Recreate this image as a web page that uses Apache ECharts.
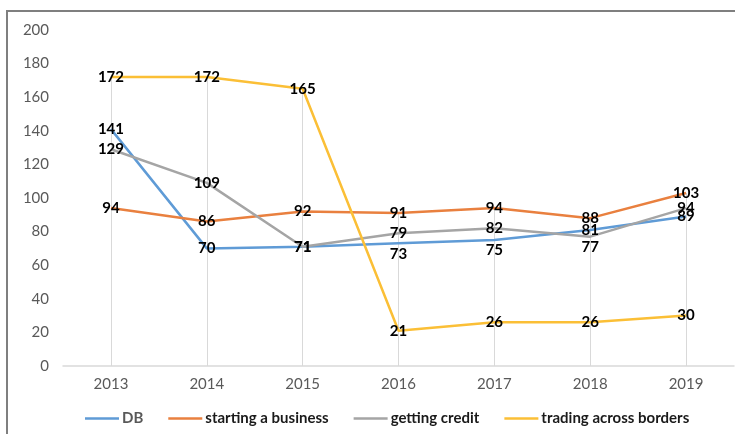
<!DOCTYPE html>
<html>
<head>
<meta charset="utf-8">
<script src="https://cdn.jsdelivr.net/npm/echarts@6/dist/echarts.min.js"></script>
<style>
  html, body { margin: 0; padding: 0; background: #fff; }
  #chart { width: 735px; height: 434px; }
</style>
</head>
<body>
<div id="chart"></div>
<script>
// Years on the category axis
const years = ['2013', '2014', '2015', '2016', '2017', '2018', '2019'];

// Ranking series
const dbRank = [141, 70, 71, 73, 75, 81, 89];
const startingBusiness = [94, 86, 92, 91, 94, 88, 103];
const gettingCredit = [129, 109, 71, 79, 82, 77, 94];
const tradingAcrossBorders = [172, 172, 165, 21, 26, 26, 30];

// Value axis ticks
const yMin = 0, yMax = 200, yStep = 20;

const FONT = 'Lato, "Open Sans", sans-serif';
const allSeries = [dbRank, startingBusiness, gettingCredit, tradingAcrossBorders];

// Drop lines run from the highest value of each year down to the axis
const dropLines = years.map((y, i) => {
  const top = Math.max(...allSeries.map(s => s[i]));
  return [{ coord: [y, top] }, { coord: [y, 0] }];
});

const labelBase = {
  show: true,
  position: 'inside',
  color: '#000',
  fontFamily: FONT,
  fontWeight: 'bold',
  fontSize: 15
};

// Some labels sit under their point so they do not collide
function points(values, belowIdx) {
  return values.map((v, i) => belowIdx.includes(i)
    ? { value: v, label: { position: 'bottom', distance: 3 } }
    : v);
}

function lineSeries(name, values, color, belowIdx, extra) {
  return Object.assign({
    name,
    type: 'line',
    data: points(values, belowIdx || []),
    symbol: 'circle',
    symbolSize: 0.01,
    showAllSymbol: true,
    lineStyle: { color, width: 2.5 },
    itemStyle: { color },
    label: labelBase,
    z: 3
  }, extra || {});
}

const chart = echarts.init(document.getElementById('chart'), null, { renderer: 'canvas' });

chart.setOption({
  animation: false,
  backgroundColor: '#fff',
  graphic: [{
    type: 'rect',
    shape: { x: 7, y: 11, width: 800, height: 500 },
    style: { fill: 'none', stroke: '#7f7f7f', lineWidth: 2 },
    silent: true,
    z: 100
  }],
  grid: { left: 63, right: 1, top: 30, bottom: 68 },
  legend: {
    left: 80,
    top: 406,
    icon: 'path://M0,0 L34,0 L34,2.5 L0,2.5 Z',
    itemWidth: 34,
    itemHeight: 2.5,
    itemGap: 25,
    textStyle: { color: '#1a1a1a', fontFamily: FONT, fontWeight: 'bold', fontSize: 15, padding: [0, 0, 0, -2] },
    data: [
      { name: 'DB', textStyle: { color: '#595959' } },
      'starting a business',
      'getting credit',
      'trading across borders'
    ]
  },
  xAxis: {
    type: 'category',
    data: years,
    boundaryGap: true,
    axisLine: { show: true, lineStyle: { color: '#d9d9d9', width: 1.5 } },
    axisTick: { show: false },
    splitLine: { show: false },
    axisLabel: { color: '#595959', fontFamily: FONT, fontSize: 15, margin: 11 }
  },
  yAxis: {
    type: 'value',
    min: yMin,
    max: yMax,
    interval: yStep,
    axisLine: { show: false },
    axisTick: { show: false },
    splitLine: { show: false },
    axisLabel: { color: '#595959', fontFamily: FONT, fontSize: 15, margin: 14 }
  },
  series: [
    lineSeries('DB', dbRank, '#5f9bd6', [3, 4], {
      markLine: {
        silent: true,
        symbol: 'none',
        label: { show: false },
        lineStyle: { color: '#d9d9d9', width: 1, type: 'solid' },
        data: dropLines,
        z: 1
      }
    }),
    lineSeries('starting a business', startingBusiness, '#e9803f'),
    lineSeries('getting credit', gettingCredit, '#a5a5a5', [5]),
    lineSeries('trading across borders', tradingAcrossBorders, '#fbbf36')
  ]
});
</script>
</body>
</html>
